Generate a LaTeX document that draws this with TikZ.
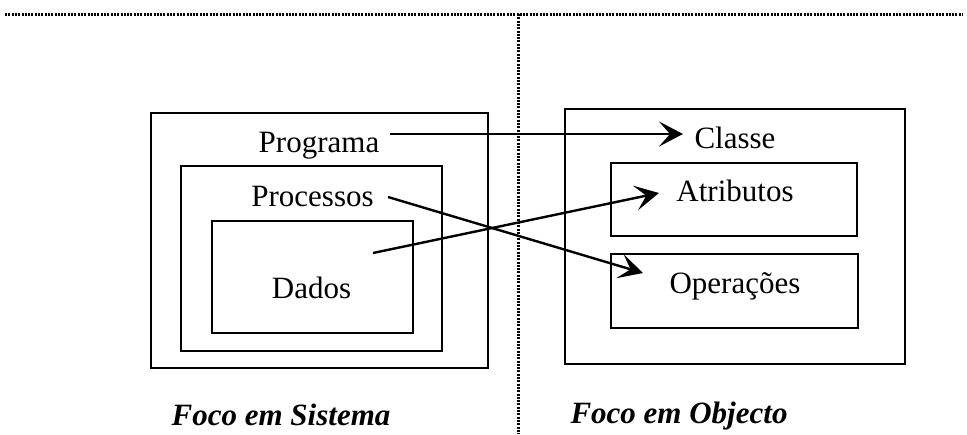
\documentclass[tikz,border=0pt]{standalone}
\usepackage{fontspec}
\setmainfont{Liberation Serif}
\usetikzlibrary{arrows.meta}
\tikzset{
  box/.style={draw, line width=2.4pt, inner sep=0pt},
  lbl/.style={inner sep=0pt, anchor=base, font=\fontsize{31}{36}\selectfont},
  foot/.style={inner sep=0pt, anchor=base, font=\fontsize{31}{36}\selectfont\bfseries\itshape},
  sep/.style={line width=3pt, dash pattern=on 2pt off 1.3pt},
  arr/.style={line width=2.4pt, -{Stealth[length=24pt,width=25pt,inset=11pt]}}
}
\begin{document}
\begin{tikzpicture}[x=1pt,y=-1pt]
\useasboundingbox (0,0) rectangle (967,434);
% separators
\coordinate (tl) at (5,14);
\coordinate (tr) at (963,14);
\coordinate (vt) at (518,14);
\coordinate (vb) at (518,434);
\draw[sep] (tl) -- (tr);
\draw[sep] (vt) -- (vb);
% left boxes
\node[box, minimum width=337pt, minimum height=255pt] (outL) at (319.5,240.5) {};
\node[box, minimum width=261pt, minimum height=185pt] (midL) at (311.5,258.5) {};
\node[box, minimum width=201pt, minimum height=112pt] (inL) at (312.5,277) {};
% right boxes
\node[box, minimum width=340pt, minimum height=255pt] (outR) at (735,236.5) {};
\node[box, minimum width=246pt, minimum height=73pt] (attrB) at (734,199.5) {};
\node[box, minimum width=247pt, minimum height=74pt] (opsB) at (734.5,291) {};
% labels
\node[lbl] (prog) at (319,152) {Programa};
\node[lbl] (proc) at (312.5,206.5) {Processos};
\node[lbl] (dados) at (311.5,298) {Dados};
\node[lbl] (classe) at (735,148) {Classe};
\node[lbl] (atr) at (735,201.5) {Atributos};
\node[lbl] (ops) at (735,293) {Operações};
\node[foot] (fs) at (281,425) {Foco em Sistema};
\node[foot] (fo) at (679,423) {Foco em Objecto};
% arrow end points
\coordinate (p1) at (390,134);
\coordinate (p2) at (683,134);
\coordinate (q1) at (388,197);
\coordinate (q2) at (643,273);
\coordinate (d1) at (373,253);
\coordinate (d2) at (659,193);
\draw[arr] (p1) -- (p2);
\draw[arr] (q1) -- (q2);
\draw[arr] (d1) -- (d2);
\end{tikzpicture}
\end{document}
